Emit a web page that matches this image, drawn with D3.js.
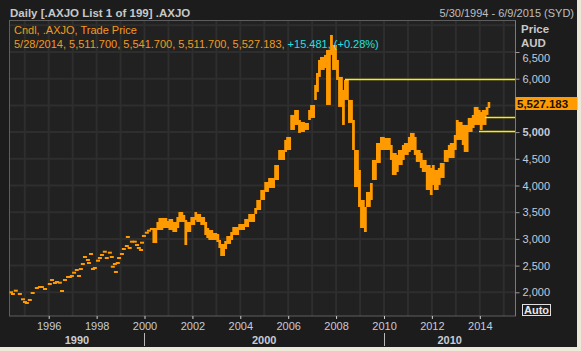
<!DOCTYPE html>
<html>
<head>
<meta charset="utf-8">
<script src="https://cdn.jsdelivr.net/npm/d3@7"></script>
<style>
body { margin: 0; background: #ece9d8; }
text { font-family: "Liberation Sans", Arial, sans-serif; }
</style>
</head>
<body>
<div id="chart_wrapper"></div>
<script>
// early part of the series only shows as sparse dashes
var dashDates = ["1994-06-05","1994-07-04","1994-08-17","1994-10-18","1994-12-05","1995-01-04","1995-02-02","1995-03-19","1995-05-02","1995-07-04","1995-08-20","1995-09-19","1995-11-06",
    "1996-01-18","1996-02-20","1996-04-05","1996-05-06","1996-06-19","1996-07-22","1996-09-05","1996-10-22","1996-11-20","1996-12-19",
    "1997-01-22","1997-03-05","1997-04-07","1997-05-06","1997-06-05","1997-07-07","1997-08-21","1997-09-06","1997-10-07","1997-11-06","1997-12-05",
    "1998-01-22","1998-02-20","1998-03-23","1998-05-06","1998-06-05","1998-07-22","1998-08-20","1998-09-05","1998-10-07","1998-10-22","1998-11-20","1998-12-09",
    "1999-01-22","1999-02-20","1999-04-07","1999-04-22","1999-05-20","1999-06-23","1999-08-06","1999-09-09","1999-10-07","1999-11-10","1999-11-24","1999-12-23",
    "2000-02-06","2000-03-09","2000-04-22"];
var dashValues = [2000,1968,2030,1968,1869,1818,1800,1856,1987,2080,2099,2099,2062,
    2155,2230,2174,2193,2180,2024,2230,2287,2287,2305,
    2367,2418,2305,2436,2530,2661,2605,2549,2717,2436,2455,
    2592,2642,2699,2760,2642,2742,2661,2479,2530,2380,2549,2642,
    2717,2811,2867,3036,2830,2948,2948,2886,2830,2792,2929,3055,
    3116,3154,3186];

// dense part, high / low per period
var barDates = ["2000-05","2000-07","2000-08","2000-10","2000-12","2001-01","2001-03","2001-05","2001-06","2001-08","2001-09","2001-10","2001-12",
    "2002-02","2002-03","2002-05","2002-07","2002-08","2002-09","2002-11","2003-01","2003-02","2003-03","2003-05","2003-06","2003-08","2003-09","2003-12",
    "2004-03","2004-05","2004-08","2004-09","2004-11","2005-01","2005-03","2005-06","2005-08","2005-11","2005-12",
    "2006-02","2006-04","2006-06","2006-07","2006-09","2006-11","2006-12","2007-02","2007-03","2007-04","2007-05","2007-07","2007-08","2007-10","2007-11",
    "2008-01","2008-02","2008-04","2008-05","2008-07","2008-09","2008-10","2008-12","2009-01","2009-03","2009-04","2009-06","2009-07","2009-09","2009-11",
    "2010-01","2010-02","2010-04","2010-05","2010-07","2010-08","2010-10","2010-11","2011-01","2011-02","2011-04","2011-05","2011-07","2011-08","2011-10","2011-12",
    "2012-01","2012-02","2012-04","2012-05","2012-07","2012-09","2012-10","2012-12","2013-01","2013-02","2013-04","2013-05","2013-07","2013-09","2013-10","2013-12",
    "2014-01","2014-02","2014-04","2014-05"];
var barHigh = [3204,3317,3392,3392,3335,3373,3317,3410,3504,3448,3354,3317,3410,
    3504,3467,3410,3317,3204,3167,3111,3092,2980,2905,2961,3054,3129,3223,3279,
    3373,3467,3579,3729,3916,4066,4141,4384,4665,4853,4909,
    5321,5414,5227,5190,5171,5414,5508,5883,6107,6351,6407,6445,6538,6819,6632,
    6351,6033,5789,5976,5602,5227,4665,4291,3729,3598,3879,4047,4478,4796,4909,
    4890,4890,4759,4609,4572,4665,4759,4796,4909,4984,4909,4665,4609,4478,4384,4328,
    4384,4291,4328,4422,4665,4759,4796,4946,5227,5190,5134,5134,5265,5321,5471,5414,
    5377,5414,5471,5564];
var barLow = [2923,3167,3167,3204,3204,3167,3129,3204,3317,3317,2886,3129,3261,
    3354,3317,3261,3073,3017,2980,2980,2942,2830,2680,2811,2905,2980,3073,3167,
    3223,3317,3467,3541,3729,3879,3954,4103,4478,4628,4665,
    5040,5134,4984,5002,5040,5227,5265,5602,5752,6033,6164,6201,5508,6445,6164,
    5976,5471,5134,5602,5171,4665,3972,3598,3204,3129,3598,3729,4103,4422,4665,
    4665,4665,4478,4197,4253,4384,4478,4572,4628,4665,4572,4441,4328,4253,3916,3822,
    4010,3916,4010,4141,4441,4515,4515,4665,4853,4853,4759,4628,5002,5077,5134,5134,
    5040,5134,5321,5452];
var lastDate = "2014-05-28";
var lastPrice = 5527.183;

var levelStart = ["2008-05-20", "2014-03-20", "2013-12-20"];
var levelValues = [6000, 5289, 5027];

// 5,500 sits under the price tag in the original, so it is not labelled
var priceTicks = [2000, 2500, 3000, 3500, 4000, 4500, 5000, 6000, 6500];
var gridValues = [2000, 2500, 3000, 3500, 4000, 4500, 5000, 5500, 6000, 6500, 7000];
var yearTicks = ["1996","1998","2000","2002","2004","2006","2008","2010","2012","2014"];
var gridYears = ["1995","1996","1997","1998","1999","2000","2001","2002","2003","2004","2005","2006","2007","2008","2009","2010","2011","2012","2013","2014","2015"];
var decades = ["1990", "2000", "2010", "2020"];
var rangeStart = "1994-05-30", rangeEnd = "2015-06-09";

var width = 581, height = 351,
    plot = {left: 9.5, right: 515.5, top: 20.5, bottom: 316};

var parseMonth = d3.timeParse("%Y-%m"),
    parseDay = d3.timeParse("%Y-%m-%d"),
    parseYear = d3.timeParse("%Y");

var orange = "#ff9b00";

var svg = d3.select("#chart_wrapper").append("svg").attr("width", width).attr("height", height);

var x = d3.scaleTime().domain([parseDay("1996-01-01"), parseDay("2014-01-01")]).range([48.7, 479.8]);
var y = d3.scaleLinear().domain([2000, 6500]).range([292.3, 52]);

// panel + plot box
svg.append("rect").attr("width", 577).attr("height", 347).attr("fill", "#1c1c1c");
svg.append("rect").attr("x", plot.left).attr("y", plot.top).attr("width", plot.right - plot.left).attr("height", plot.bottom - plot.top)
    .attr("fill", "#212121");

svg.append("defs").append("clipPath").attr("id", "clip").append("rect")
    .attr("x", plot.left).attr("y", plot.top).attr("width", plot.right - plot.left).attr("height", plot.bottom - plot.top);

var grid = svg.append("g").attr("clip-path", "url(#clip)");
grid.selectAll(".hgrid").data(gridValues).enter().append("line")
    .attr("x1", plot.left).attr("x2", plot.right)
    .attr("y1", (d) => y(d)).attr("y2", (d) => y(d))
    .attr("stroke", "#2e2e2e").attr("stroke-width", 2);
grid.selectAll(".vgrid").data(gridYears).enter().append("line")
    .attr("x1", (d) => x(parseYear(d))).attr("x2", (d) => x(parseYear(d)))
    .attr("y1", plot.top).attr("y2", plot.bottom)
    .attr("stroke", "#2e2e2e").attr("stroke-width", 2);

svg.append("rect").attr("x", plot.left).attr("y", plot.top).attr("width", plot.right - plot.left).attr("height", plot.bottom - plot.top)
    .attr("fill", "none").attr("stroke", "#5e5e5e");

// price marks
var marks = svg.append("g").attr("clip-path", "url(#clip)");

marks.selectAll(".dash").data(dashDates).enter().append("rect")
    .attr("x", (d) => x(parseDay(d)) - 2)
    .attr("y", (d, i) => y(dashValues[i]) - 1)
    .attr("width", 4).attr("height", 2)
    .attr("fill", orange);

var bars = barDates.map(function(d, i) {
    var next = i < barDates.length - 1 ? parseMonth(barDates[i + 1]) : parseDay(lastDate);
    return {start: parseMonth(d), end: next, high: barHigh[i], low: barLow[i]};
});
marks.selectAll(".bar").data(bars).enter().append("rect")
    .attr("x", (d) => x(d.start))
    .attr("y", (d) => y(d.high))
    .attr("width", (d) => x(d.end) - x(d.start) + 0.8)
    .attr("height", (d) => y(d.low) - y(d.high))
    .attr("fill", orange);

// yellow level lines
svg.selectAll(".level").data(levelValues).enter().append("line")
    .attr("x1", (d, i) => Math.round(x(parseDay(levelStart[i])))).attr("x2", plot.right)
    .attr("y1", (d) => Math.round(y(d)) + 0.5).attr("y2", (d) => Math.round(y(d)) + 0.5)
    .attr("stroke", "#ffee00").attr("stroke-width", 1.5);

// right price axis
var yAxis = svg.append("g").attr("transform", "translate(" + plot.right + ",0)")
    .call(d3.axisRight(y).tickValues(priceTicks).tickSize(4).tickPadding(3).tickFormat(d3.format(",")));
yAxis.select(".domain").attr("stroke", "#7a7a7a").attr("d", "M0," + plot.top + "V" + plot.bottom);
yAxis.selectAll(".tick line").attr("stroke", "#9a9a9a");
yAxis.selectAll(".tick text").attr("fill", "#c4cbda").attr("font-size", 11)
    .attr("font-weight", (d) => d == 5000 ? "bold" : "normal")
    .attr("y", (d) => d == 6500 ? 6 : 0);

// bottom time axis
var xAxis = svg.append("g").attr("transform", "translate(0," + plot.bottom + ")")
    .call(d3.axisBottom(x).tickValues(yearTicks.map(parseYear)).tickSize(3).tickFormat(d3.timeFormat("%Y")));
xAxis.select(".domain").remove();
xAxis.selectAll(".tick line").attr("stroke", "#cfcfcf");
xAxis.selectAll(".tick text").attr("fill", "#c4cbda").attr("font-size", 11);

for (var i = 0; i < decades.length - 1; i++) {
    var a = Math.max(plot.left, x(parseYear(decades[i]))),
        b = Math.min(plot.right, x(parseYear(decades[i + 1])));
    svg.append("text").attr("x", (a + b) / 2).attr("y", 344).attr("text-anchor", "middle")
        .attr("font-size", 11).attr("font-weight", "bold").attr("fill", "#c8ccd6").text(decades[i]);
    if (i > 0) {
        svg.append("line").attr("x1", Math.round(a) + 0.5).attr("x2", Math.round(a) + 0.5).attr("y1", 333).attr("y2", 346)
            .attr("stroke", "#b8b8b8");
    }
}

// header texts
svg.append("text").attr("x", 10).attr("y", 16.5).attr("font-size", 11.5).attr("font-weight", "bold").attr("fill", "#c8c8c8")
    .text("Daily [.AXJO List 1 of 199] .AXJO");
svg.append("text").attr("x", 574).attr("y", 16.5).attr("text-anchor", "end").attr("font-size", 11).attr("fill", "#bfbfbf")
    .text(d3.timeFormat("%-m/%-d/%Y")(parseDay(rangeStart)) + " - " + d3.timeFormat("%-m/%-d/%Y")(parseDay(rangeEnd)) + " (SYD)");
svg.append("text").attr("x", 521).attr("y", 33).attr("font-size", 11.5).attr("font-weight", "bold").attr("fill", "#c8c8c8").text("Price");
svg.append("text").attr("x", 521).attr("y", 47).attr("font-size", 11.5).attr("font-weight", "bold").attr("fill", "#c8c8c8").text("AUD");

svg.append("text").attr("x", 14).attr("y", 34).attr("font-size", 11).attr("fill", "#f29a1c").text("Cndl, .AXJO, Trade Price");
var info = svg.append("text").attr("x", 14).attr("y", 48).attr("font-size", 11);
info.append("tspan").attr("fill", "#f29a1c").text("5/28/2014, 5,511.700, 5,541.700, 5,511.700, 5,527.183, ");
info.append("tspan").attr("fill", "#22e0e0").text("+15.481, (+0.28%)");

// last price tag
var ty = y(lastPrice);
svg.append("rect").attr("x", plot.right).attr("y", Math.round(ty) - 7).attr("width", 62).attr("height", 13).attr("fill", orange);
svg.append("text").attr("x", 517).attr("y", Math.round(ty) + 4).attr("font-size", 11.5).attr("font-weight", "bold").attr("fill", "#1a1200")
    .text(d3.format(",.3f")(lastPrice));

// Auto button
svg.append("rect").attr("x", 522.5).attr("y", 304.5).attr("width", 28).attr("height", 11).attr("fill", "none").attr("stroke", "#e0e0e0");
svg.append("text").attr("x", 536.5).attr("y", 314).attr("text-anchor", "middle").attr("font-size", 11).attr("font-weight", "bold").attr("fill", "#e6e6e6").text("Auto");
</script>
</body>
</html>
